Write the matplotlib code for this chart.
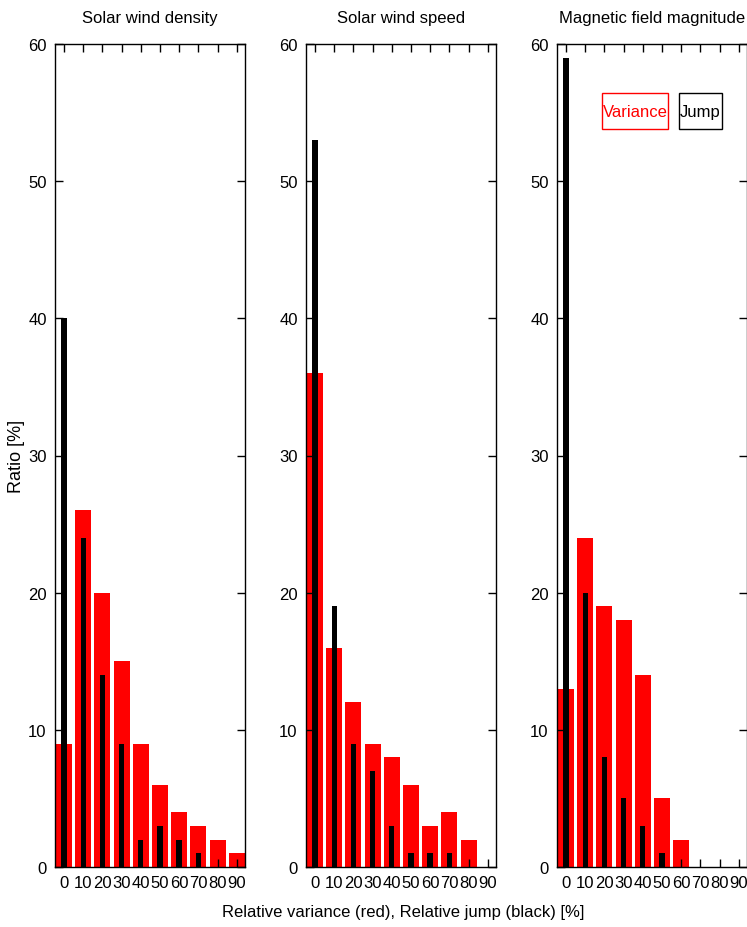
import numpy as np
import matplotlib
matplotlib.use("Agg")
import matplotlib.pyplot as plt
from matplotlib.patches import Rectangle

plt.rcParams['font.family'] = ['Liberation Sans', 'DejaVu Sans']

# bin centres [%]
bins = [0, 10, 20, 30, 40, 50, 60, 70, 80, 90]
titles = ["Solar wind density", "Solar wind speed", "Magnetic field magnitude"]

# relative variance (red) and relative jump (black), ratio [%]
density_var = [9, 26, 20, 15, 9, 6, 4, 3, 2, 1]
density_jump = [40, 24, 14, 9, 2, 3, 2, 1, 0, 0]
speed_var = [36, 16, 12, 9, 8, 6, 3, 4, 2, 0]
speed_jump = [53, 19, 9, 7, 3, 1, 1, 1, 0, 0]
bmag_var = [13, 24, 19, 18, 14, 5, 2, 0, 0, 0]
bmag_jump = [59, 20, 8, 5, 3, 1, 0, 0, 0, 0]

variances = [density_var, speed_var, bmag_var]
jumps = [density_jump, speed_jump, bmag_jump]

fig = plt.figure(figsize=(7.47, 9.28), dpi=100)
lefts = [55, 306, 557]
W, H = 747.0, 928.0
for i in range(3):
    ax = fig.add_axes([lefts[i] / W, 1 - 868 / H, 190 / W, (868 - 45) / H])
    ax.bar(bins, variances[i], width=8.3, color='red', zorder=1)
    ax.bar(bins, jumps[i], width=2.8, color='black', zorder=2)
    ax.set_xlim(-4.7, 94.3)
    ax.set_ylim(0, 60)
    ax.set_xticks(bins)
    ax.set_yticks([0, 10, 20, 30, 40, 50, 60])
    ax.tick_params(direction='in', length=6, width=1, top=True, right=True,
                   labelsize=12, pad=6)
    for sp in ax.spines.values():
        sp.set_linewidth(1)
    ax.set_title(titles[i], fontsize=12, pad=16)
    if i == 0:
        ax.set_ylabel("Ratio [%]", fontsize=13, labelpad=2)
    if i == 2:
        # legend as two framed labels
        ax.add_patch(Rectangle((0.238, 0.897), 0.344, 0.044, transform=ax.transAxes,
                               fill=False, edgecolor='red', lw=1, clip_on=False))
        ax.add_patch(Rectangle((0.641, 0.897), 0.227, 0.044, transform=ax.transAxes,
                               fill=False, edgecolor='black', lw=1, clip_on=False))
        ax.text(0.41, 0.918, "Variance", color='red', fontsize=12,
                ha='center', va='center', transform=ax.transAxes)
        ax.text(0.7545, 0.918, "Jump", color='black', fontsize=12,
                ha='center', va='center', transform=ax.transAxes)

fig.text(403 / W, 1 - 913 / H, "Relative variance (red), Relative jump (black) [%]",
         ha='center', va='center', fontsize=12)

fig.savefig("out.png", dpi=100)
